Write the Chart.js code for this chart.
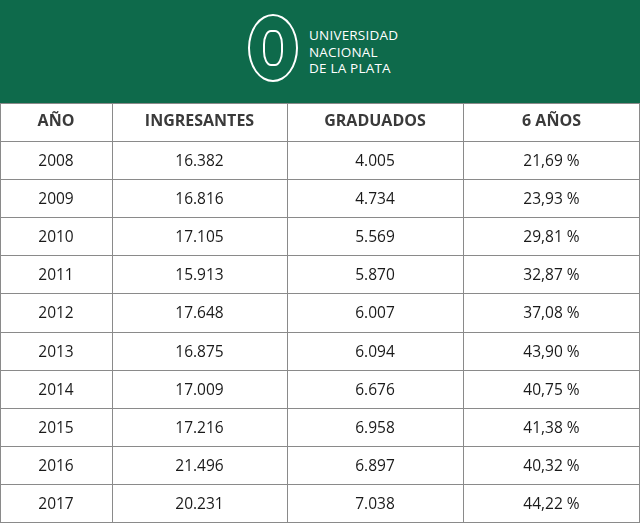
<!DOCTYPE html>
<html><head><meta charset="utf-8">
<script src="https://cdn.jsdelivr.net/npm/chart.js@4/dist/chart.umd.min.js"></script>
<style>
html,body{margin:0;padding:0;width:640px;height:523px;overflow:hidden;background:#fff;font-family:"Open Sans",sans-serif}
#banner{position:absolute;left:0;top:0;width:640px;height:103px;background:#0e6a4b}
#logo{position:absolute;left:248px;top:14px;width:50px;height:68px;border:2px solid #fff;border-radius:50%;box-sizing:border-box}
#logo div{position:absolute;left:13px;top:14px;width:20px;height:36px;border:2px solid #fff;border-radius:40%;box-sizing:border-box}
#name{position:absolute;left:309px;top:27px;color:#fff;font-size:13.5px;line-height:16.5px;letter-spacing:0.2px}
#wrap{position:absolute;left:0;top:103px;width:640px;height:420px}
</style></head><body>
<div id="banner"><div id="logo"><div></div></div><div id="name">UNIVERSIDAD<br>NACIONAL<br>DE LA PLATA</div></div>
<div id="wrap"><canvas id="c"></canvas></div>
<script>
const headers = ['AÑO','INGRESANTES','GRADUADOS','6 AÑOS'];
const years = ['2008','2009','2010','2011','2012','2013','2014','2015','2016','2017'];
const ingresantes = ['16.382','16.816','17.105','15.913','17.648','16.875','17.009','17.216','21.496','20.231'];
const graduados = ['4.005','4.734','5.569','5.870','6.007','6.094','6.676','6.958','6.897','7.038'];
const seisAnios = ['21,69 %','23,93 %','29,81 %','32,87 %','37,08 %','43,90 %','40,75 %','41,38 %','40,32 %','44,22 %'];

const rows = ['h'].concat(years);
const colEdges = [0,112,287,463,640];
const tablePlugin = {
  id:'table',
  afterDraw(chart){
    const ctx=chart.ctx, x=chart.scales.x, y=chart.scales.y;
    const cols=[years,ingresantes,graduados,seisAnios];
    ctx.save(); ctx.textAlign='center'; ctx.textBaseline='middle';
    rows.forEach((r,i)=>{
      const py=y.getPixelForValue(i);
      for(let c=0;c<4;c++){
        const px=(x.getPixelForValue(colEdges[c])+x.getPixelForValue(colEdges[c+1]))/2;
        if(i===0){ctx.font='bold 16px "Open Sans"';ctx.fillStyle='#3a3a3a';ctx.fillText(headers[c],px,py-1);}
        else{ctx.font='15.5px "Open Sans"';ctx.fillStyle='#1a1a1a';ctx.fillText(cols[c][i-1],px,py+1);}
      }
    });
    ctx.strokeStyle='#8a8a8a';ctx.lineWidth=1;
    ctx.strokeRect(chart.chartArea.left+0.5,chart.chartArea.top+0.5,chart.chartArea.width-1,chart.chartArea.height-1);
    ctx.restore();
  }
};
new Chart(document.getElementById('c'),{
  type:'scatter',
  data:{datasets:[{data:[]}]},
  options:{
    responsive:true,maintainAspectRatio:false,animation:false,
    layout:{padding:0},
    plugins:{legend:{display:false},tooltip:{enabled:false}},
    scales:{
      x:{type:'linear',min:0,max:640,position:'top',
         afterBuildTicks(s){s.ticks=colEdges.map(v=>({value:v}));},
         ticks:{display:false},grid:{color:'#8a8a8a',drawTicks:false},border:{display:false}},
      y:{type:'category',labels:rows,offset:true,
         ticks:{display:false},grid:{offset:true,color:'#8a8a8a',drawTicks:false},border:{display:false}}
    }
  },
  plugins:[tablePlugin]
});
</script></body></html>
